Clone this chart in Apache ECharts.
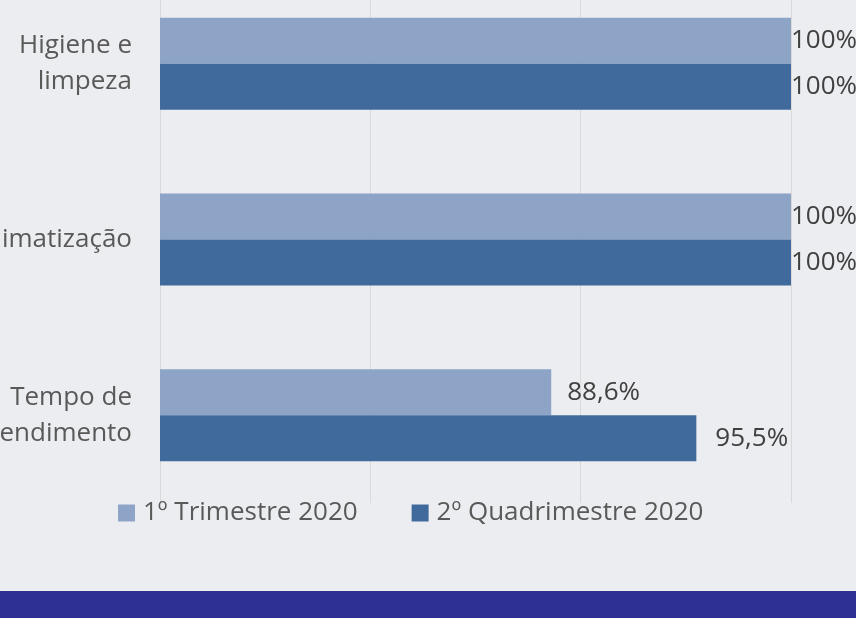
<!DOCTYPE html>
<html><head><meta charset="utf-8">
<script src="https://cdn.jsdelivr.net/npm/echarts@6/dist/echarts.min.js"></script>
<style>html,body{margin:0;padding:0;background:#ecedf0;}#c{width:856px;height:618px;}#band{position:absolute;left:0;top:591px;width:856px;height:27px;background:#2e3192;}</style>
</head><body><div id="c"></div><div id="band"></div>
<script>
var categories = ['Higiene e\nlimpeza', 'Climatização', 'Tempo de\natendimento'];
var seriesNames = ['1º Trimestre 2020', '2º Quadrimestre 2020'];
var trimestre = [100, 100, 88.6];
var quadrimestre = [100, 100, 95.5];
var xTicks = [70, 80, 90, 100];

function fmt(v){ return (v === 100 ? '100' : v.toFixed(1).replace('.', ',')) + '%'; }
function items(arr, dist){
  return arr.map(function(v){ return {value: v, label: {distance: v >= 100 ? 0 : dist}}; });
}
var chart = echarts.init(document.getElementById('c'));
var font = 'Open Sans';
chart.setOption({
  backgroundColor: '#ecedf0',
  animation: false,
  grid: {left: 160, right: 65, top: -24, height: 527, containLabel: false, outerBoundsMode: 'none'},
  xAxis: {type: 'value', min: xTicks[0], max: xTicks[xTicks.length-1], interval: 10,
    axisLabel: {show: false}, axisLine: {show: false}, axisTick: {show: false},
    splitLine: {lineStyle: {color: '#d9d9d9', width: 1}}},
  yAxis: {type: 'category', data: categories, inverse: true,
    axisLine: {show: false}, axisTick: {show: false},
    axisLabel: {margin: 28, fontFamily: font, fontSize: 26, color: '#595959', lineHeight: 36, align: 'right'}},
  legend: {top: 500, left: 118, padding: 0, itemWidth: 17, itemHeight: 17, itemGap: 54, icon: 'rect',
    textStyle: {fontFamily: font, fontSize: 26, lineHeight: 26, color: '#595959', padding: [0, 0, 0, 3]}, data: seriesNames},
  series: [
    {name: seriesNames[0], type: 'bar', data: items(trimestre, 16), barWidth: 46, barGap: '0%',
     itemStyle: {color: '#8ea4c7'},
     label: {show: true, position: 'right', fontFamily: font, fontSize: 26, color: '#404040', formatter: function(p){return fmt(p.value);}}},
    {name: seriesNames[1], type: 'bar', data: items(quadrimestre, 19), barWidth: 46, barGap: '0%',
     itemStyle: {color: '#416a9c'},
     label: {show: true, position: 'right', fontFamily: font, fontSize: 26, color: '#404040', formatter: function(p){return fmt(p.value);}}}
  ]
});
</script></body></html>
